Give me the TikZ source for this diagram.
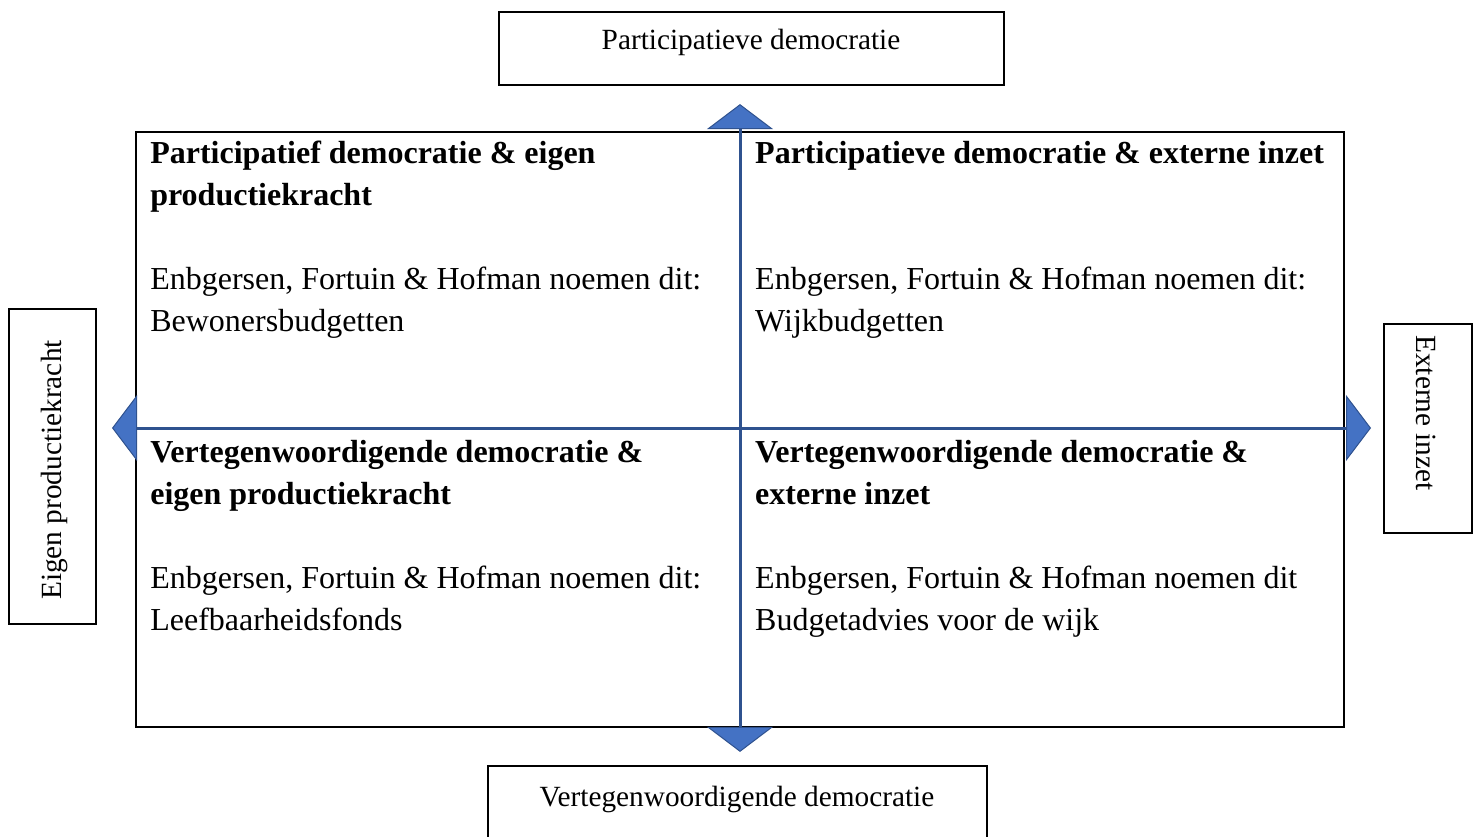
\documentclass[tikz,border=0pt]{standalone}
\usepackage{fontspec}
\setmainfont{Liberation Serif}
\usepackage{xcolor}
\usetikzlibrary{arrows.meta,positioning}
\definecolor{axisblue}{HTML}{2F528F}
\definecolor{tipblue}{HTML}{4472C4}
\tikzstyle{frame} = [draw,line width=1.3pt,inner sep=0pt]
\tikzstyle{sidetext} = [inner sep=0pt,font=\fontsize{29.3}{35}\selectfont]
\tikzstyle{celltext} = [inner sep=0pt,align=left,font=\fontsize{32}{42}\selectfont]
\tikzstyle{axis} = [draw=axisblue,line width=3pt,
  {Triangle[width=66pt,length=25pt,fill=tipblue,line width=1pt]}-{Triangle[width=66pt,length=25pt,fill=tipblue,line width=1pt]}]

\begin{document}
\begin{tikzpicture}[x=1pt,y=-1pt]
        \useasboundingbox (0,0) rectangle (1477,837);
        % Define nodes
        \node[frame,
        line width=1.8pt,
        minimum width=1208pt,
        minimum height=595pt] (grid) at (740,429.5) {};

        \node[frame,
        minimum width=505pt,
        minimum height=73pt] (topbox) at (751.5,48.5) {};
        \node[sidetext, anchor=base] (toptext) at (751,50) {Participatieve democratie};

        \node[frame,
        minimum width=499pt,
        minimum height=73pt] (bottombox) at (737.5,802.5) {};
        \node[sidetext, anchor=base] (bottomtext) at (737,806) {Vertegenwoordigende democratie};

        \node[frame,
        minimum width=87pt,
        minimum height=315pt] (leftbox) at (52.5,466.5) {};
        \node[sidetext, rotate=90] (lefttext) at (54,470) {Eigen productiekracht};

        \node[frame,
        minimum width=88pt,
        minimum height=209pt] (rightbox) at (1428,428.5) {};
        \node[sidetext, rotate=-90] (righttext) at (1426,413) {Externe inzet};

        % Cross arrows
        \coordinate (uptip) at ([yshift=27pt]grid.north);
        \coordinate (downtip) at ([yshift=-24pt]grid.south);
        \coordinate (lefttip) at (112,428);
        \coordinate (righttip) at (1371,428);
        \draw [axis] (downtip) -- (uptip);
        \draw [axis] (lefttip) -- (righttip);

        % Quadrant texts
        \node[celltext,
        below right=10pt and 15pt of grid.north west] (cellnw)
        {\textbf{Participatief democratie \& eigen}\\
         \textbf{productiekracht}\\[42pt]
         Enbgersen, Fortuin \& Hofman noemen dit:\\
         Bewonersbudgetten};

        \node[celltext,
        below right=10pt and 15pt of grid.north] (cellne)
        {\textbf{Participatieve democratie \& externe inzet}\\[84pt]
         Enbgersen, Fortuin \& Hofman noemen dit:\\
         Wijkbudgetten};

        \node[celltext,
        below right=11pt and 15pt of grid.west] (cellsw)
        {\textbf{Vertegenwoordigende democratie \&}\\
         \textbf{eigen productiekracht}\\[42pt]
         Enbgersen, Fortuin \& Hofman noemen dit:\\
         Leefbaarheidsfonds};

        \node[celltext,
        below right=11pt and 15pt of grid.center] (cellse)
        {\textbf{Vertegenwoordigende democratie \&}\\
         \textbf{externe inzet}\\[42pt]
         Enbgersen, Fortuin \& Hofman noemen dit\\
         Budgetadvies voor de wijk};

\end{tikzpicture}
\end{document}
